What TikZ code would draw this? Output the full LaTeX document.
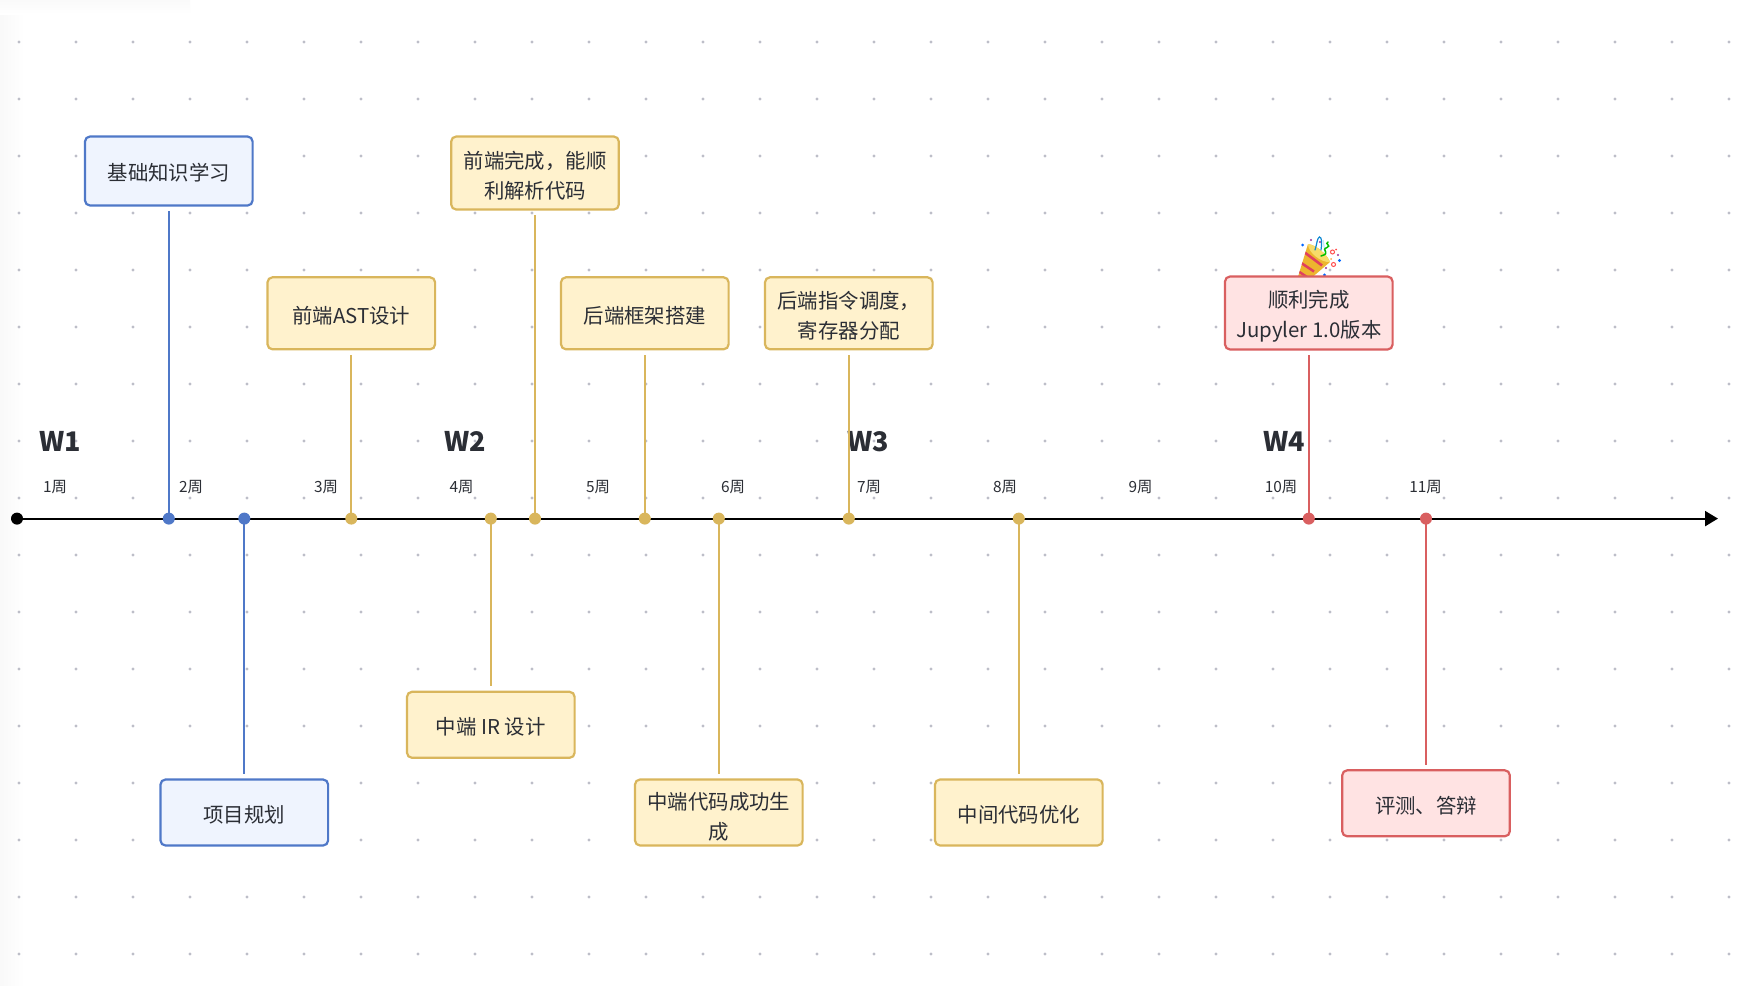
\documentclass[tikz,border=0pt]{standalone}
\usepackage{fontspec}
\usetikzlibrary{arrows.meta}
\newfontfamily\cjk{Noto Sans CJK SC}
\definecolor{bluestroke}{HTML}{4F78C8}
\definecolor{bluefill}{HTML}{EFF4FE}
\definecolor{goldstroke}{HTML}{D9B65C}
\definecolor{goldfill}{HTML}{FFF2CD}
\definecolor{redstroke}{HTML}{D95F60}
\definecolor{redfill}{HTML}{FFE3E3}
\definecolor{inktext}{HTML}{2B2E35}
\definecolor{griddot}{HTML}{BDBEC8}
\definecolor{popperred}{HTML}{E0405F}
\definecolor{poppergold}{HTML}{EDB52F}
\definecolor{popperlight}{HTML}{F7DC6A}
\tikzset{
  card/.style={rounded corners=5pt,line width=2.2pt,minimum width=167.6pt,text=inktext,align=center,inner sep=0pt,
    font={\cjk\fontsize{20.4}{30}\selectfont},execute at begin node={\rule{0pt}{21.5pt}}},
  bluecard/.style={card,draw=bluestroke,fill=bluefill},
  goldcard/.style={card,draw=goldstroke,fill=goldfill},
  redcard/.style={card,draw=redstroke,fill=redfill},
  pin/.style={circle,inner sep=0pt,minimum size=12pt},
  weeklabel/.style={text=inktext,font={\cjk\bfseries\fontsize{27}{30}\selectfont},inner sep=0pt},
  ticklabel/.style={text=inktext,font={\cjk\fontsize{15.4}{18}\selectfont},inner sep=0pt},
  stem/.style={line width=2.2pt},
}
\begin{document}
\begin{tikzpicture}[x=1pt,y=-1pt]
\useasboundingbox (0,0) rectangle (1750,985);
\fill[white] (0,0) rectangle (1750,985);
\shade[left color=black!2.5,right color=white] (0,0) rectangle (24,985);
\shade[top color=black!2,bottom color=white] (0,0) rectangle (190,14);
% dot grid
\foreach \i in {0,...,30}\foreach \j in {0,...,16}
  \fill[griddot] ({19+57*\i},{42+57*\j}) circle (1.7pt);
% party popper
\begin{scope}
  \begin{scope}
    \clip (1297,280) -- (1308,244) .. controls (1316,245) and (1327,254) .. (1330,262) -- (1309,280) -- cycle;
    \fill[poppergold] (1290,240) rectangle (1335,285);
    \fill[popperlight] (1308,244) .. controls (1316,245) and (1327,254) .. (1330,262) .. controls (1322,263) and (1308,253) .. cycle;
    \draw[popperred,line width=2.6pt] (1304,252) -- (1322,265.5);
    \draw[popperred,line width=2.6pt] (1300.5,262.5) -- (1314,271.5);
    \draw[popperred,line width=2.4pt] (1298,271) -- (1307,277);
  \end{scope}
  \fill[blue!60!cyan] (1302.5,245) circle (1.5pt);
  \fill[blue!60!cyan] (1339.5,260.5) circle (1.7pt);
  \fill[blue!60!cyan] (1324.5,275) circle (1.7pt);
  \fill[violet!80] (1320,242) circle (1.2pt);
  \fill[violet!80] (1338,255) circle (1.2pt);
  \fill[violet!80] (1326,268) circle (1.2pt);
  \fill[violet!80] (1311,240) circle (1.2pt);
  \draw[cyan!70!blue,line width=1.2pt,line cap=round] (1315,250) .. controls (1317,244) and (1317,238) .. (1319.5,237) .. controls (1322,237) and (1322,244) .. (1321,250);
  \draw[cyan!25!white,line width=1.2pt] (1323,240) -- (1325,252);
  \draw[green!75!black,line width=1.5pt,line cap=round] (1321,256) .. controls (1332,253) and (1320,250) .. (1327,247.5) .. controls (1332,245.5) and (1324,244) .. (1328,242);
  \draw[red!70,line width=1pt] (1332.5,252) circle (2pt);
  \draw[red!70,line width=1pt] (1333.5,264.5) circle (2pt);
  \fill[red!70] (1336,249.5) circle (1pt);
  \fill[orange!70] (1331,259) circle (1pt);
\end{scope}
% axis
\coordinate (axisend) at (1718,518.6);
\node[pin,fill=black] (origin) at (17,518.6) {};
\draw[line width=2.2pt,-{Triangle[length=13pt,width=15pt]}] (origin.center) -- (axisend);
% week and tick labels
\node[weeklabel] (w1) at (60,441) {W1};
\node[weeklabel] (w2) at (465,441) {W2};
\node[weeklabel] (w3) at (868.5,441.5) {W3};
\node[weeklabel] (w4) at (1284,441) {W4};
\node[ticklabel] (t1) at (55,487) {1周};
\node[ticklabel] (t2) at (191,487) {2周};
\node[ticklabel] (t3) at (326,487) {3周};
\node[ticklabel] (t4) at (461.5,487) {4周};
\node[ticklabel] (t5) at (598,487) {5周};
\node[ticklabel] (t6) at (733,487) {6周};
\node[ticklabel] (t7) at (869,487) {7周};
\node[ticklabel] (t8) at (1005,487) {8周};
\node[ticklabel] (t9) at (1140.5,487) {9周};
\node[ticklabel] (t10) at (1281,487) {10周};
\node[ticklabel] (t11) at (1425.5,487) {11周};
% cards
\node[bluecard,minimum height=69pt] (c1) at (168.8,171) {基础知识学习};
\node[bluecard,minimum height=66pt] (c2) at (244.3,812.5) {项目规划};
\node[goldcard,minimum height=72pt] (c3) at (351.3,313.3) {前端AST设计};
\node[goldcard,minimum height=73pt] (c4) at (535,173) {\rule{0pt}{22.5pt}前端完成，能顺\\利解析代码};
\node[goldcard,minimum height=66pt] (c5) at (490.8,724.8) {中端 IR 设计};
\node[goldcard,minimum height=72pt] (c6) at (644.8,313.3) {后端框架搭建};
\node[goldcard,minimum height=66pt] (c7) at (718.8,812.5) {\rule{0pt}{26pt}中端代码成功生\\成};
\node[goldcard,minimum height=72pt] (c8) at (848.8,313.3) {\rule{0pt}{22.5pt}后端指令调度，\\寄存器分配};
\node[goldcard,minimum height=66pt] (c9) at (1018.8,812.5) {中间代码优化};
\node[redcard,minimum height=73pt] (c10) at (1308.8,313) {\rule{0pt}{23pt}顺利完成\\Jupyler 1.0版本};
\node[redcard,minimum height=66pt] (c11) at (1426,803.3) {评测、答辩};
% pins on the axis
\node[pin,fill=bluestroke] (p1) at (168.8,518.6) {};
\node[pin,fill=bluestroke] (p2) at (244.3,518.6) {};
\node[pin,fill=goldstroke] (p3) at (351.3,518.6) {};
\node[pin,fill=goldstroke] (p5) at (490.8,518.6) {};
\node[pin,fill=goldstroke] (p4) at (535,518.6) {};
\node[pin,fill=goldstroke] (p6) at (644.8,518.6) {};
\node[pin,fill=goldstroke] (p7) at (718.8,518.6) {};
\node[pin,fill=goldstroke] (p8) at (848.8,518.6) {};
\node[pin,fill=goldstroke] (p9) at (1018.8,518.6) {};
\node[pin,fill=redstroke] (p10) at (1308.8,518.6) {};
\node[pin,fill=redstroke] (p11) at (1426,518.6) {};
% stems
\draw[stem,bluestroke] (p1.center) -- ([yshift=-4.5pt]c1.south);
\draw[stem,bluestroke] (p2.center) -- ([yshift=4.5pt]c2.north);
\draw[stem,goldstroke] (p3.center) -- ([yshift=-4.5pt]c3.south);
\draw[stem,goldstroke] (p4.center) -- ([yshift=-4.5pt]c4.south);
\draw[stem,goldstroke] (p5.center) -- ([yshift=4.5pt]c5.north);
\draw[stem,goldstroke] (p6.center) -- ([yshift=-4.5pt]c6.south);
\draw[stem,goldstroke] (p7.center) -- ([yshift=4.5pt]c7.north);
\draw[stem,goldstroke] (p8.center) -- ([yshift=-4.5pt]c8.south);
\draw[stem,goldstroke] (p9.center) -- ([yshift=4.5pt]c9.north);
\draw[stem,redstroke] (p10.center) -- ([yshift=-4.5pt]c10.south);
\draw[stem,redstroke] (p11.center) -- ([yshift=4.5pt]c11.north);
\end{tikzpicture}
\end{document}
